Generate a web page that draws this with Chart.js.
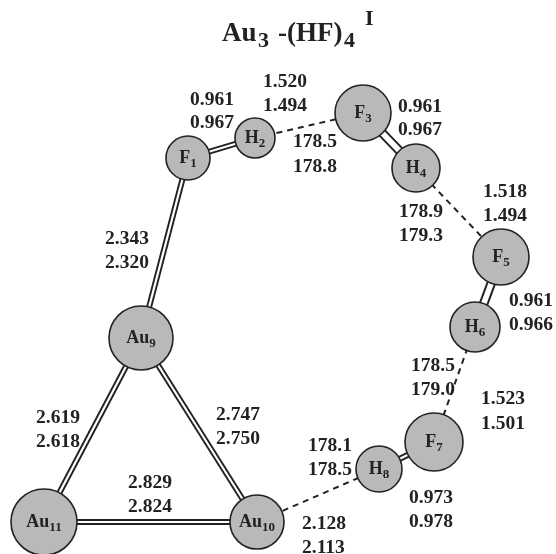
<!DOCTYPE html>
<html>
<head>
<meta charset="utf-8">
<title>Au3-(HF)4 I</title>
<script src="https://cdn.jsdelivr.net/npm/chart.js@4"></script>
<style>
    html, body { margin: 0; padding: 0; background: #fff; }
    canvas { display: block; }
</style>
</head>
<body>
<canvas id="cluster" width="556" height="554"></canvas>
<script>
// atoms, in picture coordinates
const atomNames = ['F', 'H', 'F', 'H', 'F', 'H', 'F', 'H', 'Au', 'Au', 'Au'];
const atomNums = ['1', '2', '3', '4', '5', '6', '7', '8', '9', '10', '11'];
const atomX = [188, 255, 363, 416, 501, 475, 434, 379, 141, 257, 44];
const atomY = [158, 138, 113, 168, 257, 327, 442, 469, 338, 522, 522];
const atomR = [22, 20, 28, 24, 28, 25, 29, 23, 32, 27, 33];

// bonds, as pairs of atom indexes
const covalentBonds = [[0, 1], [2, 3], [4, 5], [6, 7], [0, 8], [8, 9], [8, 10], [9, 10]];
const hydrogenBonds = [[1, 2], [3, 4], [5, 6], [7, 9]];

// the numbers written next to the bonds
const bondTexts = ['1.520', '1.494', '0.961', '0.967', '0.961', '0.967', '178.5', '178.8',
    '1.518', '1.494', '178.9', '179.3', '2.343', '2.320', '2.619', '2.618', '2.747', '2.750',
    '2.829', '2.824', '0.961', '0.966', '178.5', '179.0', '1.523', '1.501', '178.1', '178.5',
    '0.973', '0.978', '2.128', '2.113'];
const bondTextX = [263, 263, 190, 190, 398, 398, 293, 293,
    483, 483, 399, 399, 105, 105, 36, 36, 216, 216,
    128, 128, 509, 509, 411, 411, 481, 481, 308, 308,
    409, 409, 302, 302];
const bondTextY = [87, 111, 105, 128, 112, 135, 147, 172,
    197, 221, 217, 241, 244, 268, 423, 447, 420, 444,
    488, 512, 306, 330, 371, 395, 404, 429, 451, 475,
    503, 527, 529, 553];

const serif = '"Liberation Serif", serif';
const ink = '#222';

const bondLine = function (pair, extra) {
    return Object.assign({
        type: 'line',
        data: pair.map(function (i) {
            return {x: atomX[i], y: atomY[i]};
        }),
        pointRadius: 0,
        fill: false,
        clip: false
    }, extra);
};

let datasets = [];
covalentBonds.forEach(function (pair, n) {
    // F3-H4 and F5-H6 are drawn wider than the others
    let wide = n === 1 || n === 2;
    datasets.push(bondLine(pair, {borderColor: '#222', borderWidth: wide ? 9.5 : 6, order: 5}));
    datasets.push(bondLine(pair, {borderColor: '#fff', borderWidth: wide ? 5.5 : 2.2, order: 4}));
});
hydrogenBonds.forEach(function (pair) {
    datasets.push(bondLine(pair, {borderColor: '#222', borderWidth: 2, borderDash: [6, 5], order: 3}));
});
datasets.push({
    type: 'bubble',
    data: atomX.map(function (x, i) {
        return {x: x, y: atomY[i], r: atomR[i]};
    }),
    backgroundColor: '#b9b9b9',
    borderColor: '#222',
    borderWidth: 1.6,
    clip: false,
    order: 1
});

const textPlugin = {
    id: 'moleculeText',
    afterDatasetsDraw: function (chart) {
        let ctx = chart.ctx;
        let xs = chart.scales.x;
        let ys = chart.scales.y;
        ctx.save();
        ctx.fillStyle = ink;
        ctx.textBaseline = 'alphabetic';
        ctx.textAlign = 'left';

        bondTexts.forEach(function (text, i) {
            ctx.font = 'bold 19.5px ' + serif;
            ctx.fillText(text, xs.getPixelForValue(bondTextX[i]), ys.getPixelForValue(bondTextY[i]));
        });

        // atom symbol with its number as subscript, centred on the atom
        atomNames.forEach(function (name, i) {
            ctx.font = 'bold 18px ' + serif;
            let w1 = ctx.measureText(name).width;
            ctx.font = 'bold 13px ' + serif;
            let w2 = ctx.measureText(atomNums[i]).width;
            let x = xs.getPixelForValue(atomX[i]) - (w1 + w2) / 2;
            let y = ys.getPixelForValue(atomY[i]) + 5;
            ctx.font = 'bold 18px ' + serif;
            ctx.fillText(name, x, y);
            ctx.font = 'bold 13px ' + serif;
            ctx.fillText(atomNums[i], x + w1, y + 4);
        });

        // title
        ctx.font = 'bold 27px ' + serif;
        ctx.fillText('Au', 222, 41);
        ctx.fillText('-(HF)', 278, 41);
        ctx.font = 'bold 22px ' + serif;
        ctx.fillText('3', 258, 47);
        ctx.fillText('4', 344, 47);
        ctx.fillText('I', 365, 25);
        ctx.restore();
    }
};

new Chart(document.getElementById('cluster'), {
    type: 'bubble',
    data: {datasets: datasets},
    options: {
        responsive: false,
        animation: false,
        events: [],
        layout: {padding: 0, autoPadding: false},
        plugins: {legend: {display: false}, tooltip: {enabled: false}},
        scales: {
            x: {type: 'linear', min: 0, max: 556, display: false},
            y: {type: 'linear', min: 0, max: 554, reverse: true, display: false}
        }
    },
    plugins: [textPlugin]
});
</script>
</body>
</html>
